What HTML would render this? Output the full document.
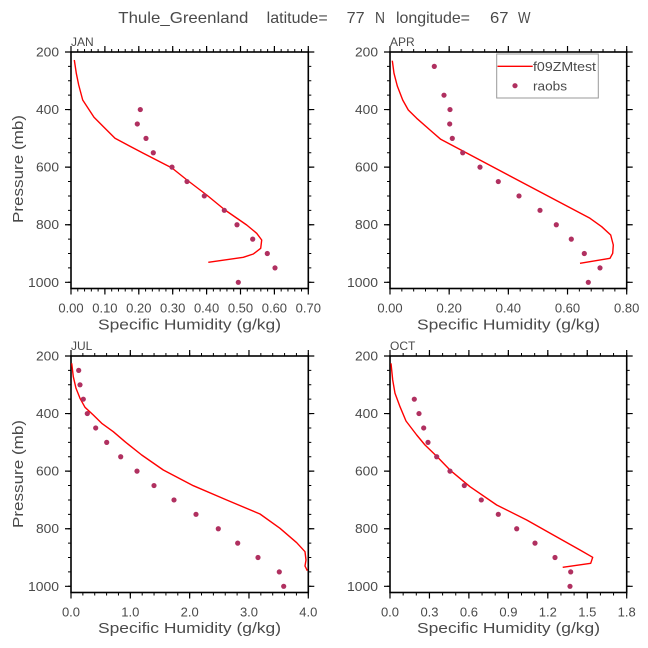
<!DOCTYPE html>
<html><head><meta charset="utf-8"><style>
html,body{margin:0;padding:0;background:#fff;}
svg{display:block;}
text{font-family:"Liberation Sans",sans-serif;fill:#4a4a4a;white-space:pre;}
</style></head><body>
<svg width="648" height="648" viewBox="0 0 648 648" xmlns="http://www.w3.org/2000/svg">
<rect width="648" height="648" fill="#fff"/>
<!-- Title -->
<g font-size="16">
<text x="118.3" y="23" textLength="130" lengthAdjust="spacingAndGlyphs">Thule_Greenland</text>
<text x="266.7" y="23" textLength="61" lengthAdjust="spacingAndGlyphs">latitude=</text>
<text x="346.7" y="23" textLength="18" lengthAdjust="spacingAndGlyphs">77</text>
<text x="375" y="23" textLength="10" lengthAdjust="spacingAndGlyphs">N</text>
<text x="396" y="23" textLength="74" lengthAdjust="spacingAndGlyphs">longitude=</text>
<text x="490" y="23" textLength="18.5" lengthAdjust="spacingAndGlyphs">67</text>
<text x="518" y="23" textLength="12.5" lengthAdjust="spacingAndGlyphs">W</text>
</g>

<!-- ===== Panel frames and ticks ===== -->
<g stroke="#000" fill="none">
<!-- P1 JAN -->
<rect x="71" y="52" width="237.3" height="236.5" stroke-width="1.6"/>
<line x1="70.5" y1="50.5" x2="308.8" y2="50.5" stroke-width="3" stroke-dasharray="1 5.78"/>
<line x1="70.4" y1="49" x2="308.9" y2="49" stroke-width="6" stroke-dasharray="1.2 32.7"/>
<line x1="70.5" y1="290" x2="308.8" y2="290" stroke-width="3" stroke-dasharray="1 5.78"/>
<line x1="70.4" y1="291.5" x2="308.9" y2="291.5" stroke-width="6" stroke-dasharray="1.2 32.7"/>
<line x1="69.5" y1="51.5" x2="69.5" y2="282.8" stroke-width="3" stroke-dasharray="1 13.39375"/>
<line x1="68" y1="51.4" x2="68" y2="282.9" stroke-width="6" stroke-dasharray="1.2 56.375"/>
<line x1="309.8" y1="51.5" x2="309.8" y2="282.8" stroke-width="3" stroke-dasharray="1 13.39375"/>
<line x1="311.3" y1="51.4" x2="311.3" y2="282.9" stroke-width="6" stroke-dasharray="1.2 56.375"/>
<!-- P2 APR -->
<rect x="390" y="52" width="236.7" height="236.5" stroke-width="1.6"/>
<line x1="389.5" y1="50.5" x2="627.2" y2="50.5" stroke-width="3" stroke-dasharray="1 10.835"/>
<line x1="389.4" y1="49" x2="627.3" y2="49" stroke-width="6" stroke-dasharray="1.2 57.975"/>
<line x1="389.5" y1="290" x2="627.2" y2="290" stroke-width="3" stroke-dasharray="1 10.835"/>
<line x1="389.4" y1="291.5" x2="627.3" y2="291.5" stroke-width="6" stroke-dasharray="1.2 57.975"/>
<line x1="388.5" y1="51.5" x2="388.5" y2="282.8" stroke-width="3" stroke-dasharray="1 13.39375"/>
<line x1="387" y1="51.4" x2="387" y2="282.9" stroke-width="6" stroke-dasharray="1.2 56.375"/>
<line x1="628.2" y1="51.5" x2="628.2" y2="282.8" stroke-width="3" stroke-dasharray="1 13.39375"/>
<line x1="629.7" y1="51.4" x2="629.7" y2="282.9" stroke-width="6" stroke-dasharray="1.2 56.375"/>
<!-- P3 JUL -->
<rect x="71" y="356" width="237.3" height="236.5" stroke-width="1.6"/>
<line x1="70.5" y1="354.5" x2="308.8" y2="354.5" stroke-width="3" stroke-dasharray="1 10.865"/>
<line x1="70.4" y1="353" x2="308.9" y2="353" stroke-width="6" stroke-dasharray="1.2 58.125"/>
<line x1="70.5" y1="594" x2="308.8" y2="594" stroke-width="3" stroke-dasharray="1 10.865"/>
<line x1="70.4" y1="595.5" x2="308.9" y2="595.5" stroke-width="6" stroke-dasharray="1.2 58.125"/>
<line x1="69.5" y1="355.5" x2="69.5" y2="586.8" stroke-width="3" stroke-dasharray="1 13.39375"/>
<line x1="68" y1="355.4" x2="68" y2="586.9" stroke-width="6" stroke-dasharray="1.2 56.375"/>
<line x1="309.8" y1="355.5" x2="309.8" y2="586.8" stroke-width="3" stroke-dasharray="1 13.39375"/>
<line x1="311.3" y1="355.4" x2="311.3" y2="586.9" stroke-width="6" stroke-dasharray="1.2 56.375"/>
<!-- P4 OCT -->
<rect x="390" y="356" width="236.7" height="236.5" stroke-width="1.6"/>
<line x1="389.5" y1="354.5" x2="627.2" y2="354.5" stroke-width="3" stroke-dasharray="1 12.15"/>
<line x1="389.4" y1="353" x2="627.3" y2="353" stroke-width="6" stroke-dasharray="1.2 38.25"/>
<line x1="389.5" y1="594" x2="627.2" y2="594" stroke-width="3" stroke-dasharray="1 12.15"/>
<line x1="389.4" y1="595.5" x2="627.3" y2="595.5" stroke-width="6" stroke-dasharray="1.2 38.25"/>
<line x1="388.5" y1="355.5" x2="388.5" y2="586.8" stroke-width="3" stroke-dasharray="1 13.39375"/>
<line x1="387" y1="355.4" x2="387" y2="586.9" stroke-width="6" stroke-dasharray="1.2 56.375"/>
<line x1="628.2" y1="355.5" x2="628.2" y2="586.8" stroke-width="3" stroke-dasharray="1 13.39375"/>
<line x1="629.7" y1="355.4" x2="629.7" y2="586.9" stroke-width="6" stroke-dasharray="1.2 56.375"/>
</g>

<!-- ===== Panel labels ===== -->
<g font-size="12">
<text x="71" y="46">JAN</text>
<text x="390" y="46">APR</text>
<text x="71" y="350">JUL</text>
<text x="390" y="350">OCT</text>
</g>

<!-- ===== Y tick labels ===== -->
<g font-size="13" text-anchor="end">
<text x="59" y="56.5" textLength="23" lengthAdjust="spacingAndGlyphs">200</text>
<text x="59" y="114.1" textLength="23" lengthAdjust="spacingAndGlyphs">400</text>
<text x="59" y="171.7" textLength="23" lengthAdjust="spacingAndGlyphs">600</text>
<text x="59" y="229.2" textLength="23" lengthAdjust="spacingAndGlyphs">800</text>
<text x="59" y="286.8" textLength="31" lengthAdjust="spacingAndGlyphs">1000</text>
<text x="378" y="56.5" textLength="23" lengthAdjust="spacingAndGlyphs">200</text>
<text x="378" y="114.1" textLength="23" lengthAdjust="spacingAndGlyphs">400</text>
<text x="378" y="171.7" textLength="23" lengthAdjust="spacingAndGlyphs">600</text>
<text x="378" y="229.2" textLength="23" lengthAdjust="spacingAndGlyphs">800</text>
<text x="378" y="286.8" textLength="31" lengthAdjust="spacingAndGlyphs">1000</text>
<text x="59" y="360.5" textLength="23" lengthAdjust="spacingAndGlyphs">200</text>
<text x="59" y="418.1" textLength="23" lengthAdjust="spacingAndGlyphs">400</text>
<text x="59" y="475.7" textLength="23" lengthAdjust="spacingAndGlyphs">600</text>
<text x="59" y="533.2" textLength="23" lengthAdjust="spacingAndGlyphs">800</text>
<text x="59" y="590.8" textLength="31" lengthAdjust="spacingAndGlyphs">1000</text>
<text x="378" y="360.5" textLength="23" lengthAdjust="spacingAndGlyphs">200</text>
<text x="378" y="418.1" textLength="23" lengthAdjust="spacingAndGlyphs">400</text>
<text x="378" y="475.7" textLength="23" lengthAdjust="spacingAndGlyphs">600</text>
<text x="378" y="533.2" textLength="23" lengthAdjust="spacingAndGlyphs">800</text>
<text x="378" y="590.8" textLength="31" lengthAdjust="spacingAndGlyphs">1000</text>
</g>

<!-- ===== X tick labels ===== -->
<g font-size="13" text-anchor="middle">
<text x="71" y="312.5">0.00</text>
<text x="104.9" y="312.5">0.10</text>
<text x="138.8" y="312.5">0.20</text>
<text x="172.7" y="312.5">0.30</text>
<text x="206.6" y="312.5">0.40</text>
<text x="240.5" y="312.5">0.50</text>
<text x="274.4" y="312.5">0.60</text>
<text x="308.3" y="312.5">0.70</text>

<text x="390" y="312.5">0.00</text>
<text x="449.2" y="312.5">0.20</text>
<text x="508.4" y="312.5">0.40</text>
<text x="567.5" y="312.5">0.60</text>
<text x="626.7" y="312.5">0.80</text>

<text x="71" y="616.5">0.0</text>
<text x="130.3" y="616.5">1.0</text>
<text x="189.7" y="616.5">2.0</text>
<text x="249" y="616.5">3.0</text>
<text x="308.3" y="616.5">4.0</text>

<text x="390" y="616.5">0.0</text>
<text x="429.5" y="616.5">0.3</text>
<text x="468.9" y="616.5">0.6</text>
<text x="508.4" y="616.5">0.9</text>
<text x="547.8" y="616.5">1.2</text>
<text x="587.3" y="616.5">1.5</text>
<text x="626.7" y="616.5">1.8</text>
</g>

<!-- ===== Axis titles ===== -->
<g font-size="14.5">
<text x="98" y="329.5" textLength="183" lengthAdjust="spacingAndGlyphs">Specific Humidity (g/kg)</text>
<text x="417" y="329.5" textLength="183" lengthAdjust="spacingAndGlyphs">Specific Humidity (g/kg)</text>
<text x="98" y="633" textLength="183" lengthAdjust="spacingAndGlyphs">Specific Humidity (g/kg)</text>
<text x="417" y="633" textLength="183" lengthAdjust="spacingAndGlyphs">Specific Humidity (g/kg)</text>
<text transform="translate(23,223) rotate(-90)" textLength="108" lengthAdjust="spacingAndGlyphs">Pressure (mb)</text>
<text transform="translate(23,528) rotate(-90)" textLength="108" lengthAdjust="spacingAndGlyphs">Pressure (mb)</text>
</g>

<!-- ===== Model lines ===== -->
<g fill="none" stroke="#ff0000" stroke-width="1.4" stroke-linejoin="round">
<polyline points="74.3,60 76.3,73.3 78.7,85 82.7,100 94,117.3 115,138.3 143.3,153.3 172,168 187,180 206.7,195 225,210 246.7,225 256.7,233.3 261.7,240 260.7,248.3 253.3,254 243.3,257.3 208.3,262.3"/>
<polyline points="392.3,60.7 394,73.3 397.3,86 402.7,100 408.3,110 416.7,118.3 430,130 440.7,139.3 590,218.3 601.7,226.7 610.7,235 613.3,245 612.7,253.3 610,258.3 580,263.3"/>
<polyline points="71.7,363.3 73.3,376.7 76,388.3 80,398.3 85,407.3 93.3,415 101.7,423.3 113.3,431.7 125,441.7 141.7,455 163.3,470 193.3,485.7 226.7,500 260,514 280,528.3 296.7,542.7 305,551.7 306,560 305,566 307.3,570.7"/>
<polyline points="391,363.3 392.7,380 395,393.3 400,406.7 406,421 416.7,435 425,445 436.7,456.3 450.7,470.7 470,486.7 496.7,505 526.7,520 553.3,535 580,550 592.7,557.3 590.7,563.3 562.7,567.3"/>
</g>

<!-- ===== Observations ===== -->
<g fill="#b03060">
<!-- JAN -->
<circle cx="140.3" cy="109.58" r="2.6"/>
<circle cx="137.3" cy="123.97" r="2.6"/>
<circle cx="146" cy="138.36" r="2.6"/>
<circle cx="153.3" cy="152.76" r="2.6"/>
<circle cx="172" cy="167.15" r="2.6"/>
<circle cx="187" cy="181.54" r="2.6"/>
<circle cx="204.3" cy="195.94" r="2.6"/>
<circle cx="224.3" cy="210.33" r="2.6"/>
<circle cx="237" cy="224.73" r="2.6"/>
<circle cx="252.7" cy="239.12" r="2.6"/>
<circle cx="267.3" cy="253.51" r="2.6"/>
<circle cx="275" cy="267.91" r="2.6"/>
<circle cx="238.3" cy="282.3" r="2.6"/>
<!-- APR -->
<circle cx="434.3" cy="66.39" r="2.6"/>
<circle cx="444" cy="95.18" r="2.6"/>
<circle cx="450" cy="109.58" r="2.6"/>
<circle cx="449.7" cy="123.97" r="2.6"/>
<circle cx="452.3" cy="138.36" r="2.6"/>
<circle cx="462.7" cy="152.76" r="2.6"/>
<circle cx="480" cy="167.15" r="2.6"/>
<circle cx="498.3" cy="181.54" r="2.6"/>
<circle cx="519" cy="195.94" r="2.6"/>
<circle cx="540" cy="210.33" r="2.6"/>
<circle cx="556.3" cy="224.73" r="2.6"/>
<circle cx="571.3" cy="239.12" r="2.6"/>
<circle cx="584.3" cy="253.51" r="2.6"/>
<circle cx="600" cy="267.91" r="2.6"/>
<circle cx="588.3" cy="282.3" r="2.6"/>
<!-- JUL -->
<circle cx="78.7" cy="370.39" r="2.6"/>
<circle cx="80" cy="384.79" r="2.6"/>
<circle cx="83.3" cy="399.18" r="2.6"/>
<circle cx="87.3" cy="413.58" r="2.6"/>
<circle cx="95.7" cy="427.97" r="2.6"/>
<circle cx="106.7" cy="442.36" r="2.6"/>
<circle cx="120.7" cy="456.76" r="2.6"/>
<circle cx="137" cy="471.15" r="2.6"/>
<circle cx="154" cy="485.54" r="2.6"/>
<circle cx="174" cy="499.94" r="2.6"/>
<circle cx="196" cy="514.33" r="2.6"/>
<circle cx="218.3" cy="528.73" r="2.6"/>
<circle cx="237.7" cy="543.12" r="2.6"/>
<circle cx="258" cy="557.51" r="2.6"/>
<circle cx="279.3" cy="571.91" r="2.6"/>
<circle cx="283.7" cy="586.3" r="2.6"/>
<!-- OCT -->
<circle cx="414.3" cy="399.18" r="2.6"/>
<circle cx="419" cy="413.58" r="2.6"/>
<circle cx="423.7" cy="427.97" r="2.6"/>
<circle cx="428" cy="442.36" r="2.6"/>
<circle cx="436.7" cy="456.76" r="2.6"/>
<circle cx="450" cy="471.15" r="2.6"/>
<circle cx="464.3" cy="485.54" r="2.6"/>
<circle cx="481.3" cy="499.94" r="2.6"/>
<circle cx="498.3" cy="514.33" r="2.6"/>
<circle cx="516.7" cy="528.73" r="2.6"/>
<circle cx="535" cy="543.12" r="2.6"/>
<circle cx="555" cy="557.51" r="2.6"/>
<circle cx="570.7" cy="571.91" r="2.6"/>
<circle cx="570" cy="586.3" r="2.6"/>
</g>

<!-- ===== Legend ===== -->
<rect x="496.7" y="54" width="101.6" height="44" fill="#fff" stroke="#999" stroke-width="1"/>
<line x1="497.5" y1="66.3" x2="532.7" y2="66.3" stroke="#ff0000" stroke-width="1.4"/>
<text x="533" y="71" font-size="13" textLength="63" lengthAdjust="spacingAndGlyphs">f09ZMtest</text>
<circle cx="515" cy="85.7" r="2.6" fill="#b03060"/>
<text x="533" y="90.7" font-size="13" textLength="34" lengthAdjust="spacingAndGlyphs">raobs</text>
</svg>
</body></html>
